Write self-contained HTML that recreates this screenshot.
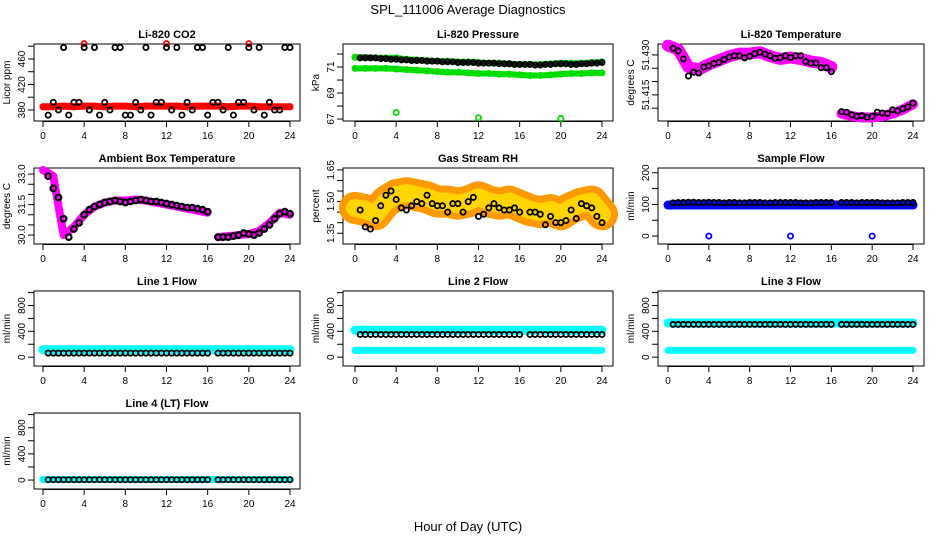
<!DOCTYPE html>
<html><head><meta charset="utf-8"><style>
body{margin:0;background:#fff}
svg{display:block;font-family:"Liberation Sans",sans-serif}
</style></head><body>
<svg id="c" width="936" height="540" xmlns="http://www.w3.org/2000/svg">
<rect width="936" height="540" fill="#fff"/>
<text x="468" y="14" text-anchor="middle" font-size="13">SPL_111006  Average Diagnostics</text>
<text x="468" y="531" text-anchor="middle" font-size="13">Hour of Day (UTC)</text>
</svg>
<script>
// ---- data ----
const hours = [0,1,2,3,4,5,6,7,8,9,10,11,12,13,14,15,16,17,18,19,20,21,22,23,24];
const halfHours = [0.5,1,1.5,2,2.5,3,3.5,4,4.5,5,5.5,6,6.5,7,7.5,8,8.5,9,9.5,10,10.5,11,11.5,12,12.5,13,13.5,14,14.5,15,15.5,16,16.5,17,17.5,18,18.5,19,19.5,20,20.5,21,21.5,22,22.5,23,23.5,24];
const xTicks = [0,4,8,12,16,20,24];
const outlierHours = [4,12,20];

const co2Red = [385,385,386,385,386,386,385,386,386,385,386,386,386,386,385,386,386,386,385,386,386,385,385,385,385];
const co2RedOut = [484,484,484];
const co2Black = [372,392,380,478,372,392,392,478,380,478,372,392,380,478,478,372,372,392,380,478,372,392,392,478,380,478,372,392,380,478,478,372,392,392,380,478,372,392,392,478,380,478,372,392,380,380,478,478];

const presGreenHi = [71.75,71.75,71.7,71.7,71.7,71.6,71.55,71.5,71.45,71.45,71.4,71.4,71.35,71.3,71.3,71.25,71.2,71.2,71.2,71.25,71.3,71.3,71.3,71.35,71.4];
const presGreenLo = [70.9,70.9,70.9,70.9,70.85,70.8,70.75,70.7,70.65,70.6,70.6,70.55,70.5,70.5,70.45,70.45,70.4,70.35,70.35,70.4,70.45,70.5,70.5,70.55,70.55];
const presGreenOut = [67.5,67.1,67.05];
const presBlack = [71.7,71.7,71.7,71.7,71.65,71.65,71.6,71.6,71.55,71.55,71.5,71.5,71.5,71.45,71.45,71.45,71.4,71.4,71.4,71.35,71.35,71.35,71.35,71.3,71.3,71.3,71.3,71.25,71.25,71.25,71.2,71.2,71.2,71.2,71.15,71.15,71.2,71.2,71.25,71.25,71.25,71.2,71.2,71.25,71.25,71.3,71.3,71.35];

const tempMag = [51.4335,51.432,51.4255,51.4245,51.4265,51.428,51.4295,51.4305,51.4305,51.431,51.4295,51.4285,51.429,51.4285,51.4275,51.427,51.4255,51.408,51.407,51.4065,51.4065,51.407,51.408,51.4095,51.4115];
const tempBlack = [51.4325,51.4315,51.4285,51.4221,51.4235,51.4232,51.4255,51.4259,51.4268,51.4272,51.4283,51.4292,51.4297,51.4297,51.4289,51.4295,51.4305,51.431,51.4303,51.4297,51.4287,51.429,51.4297,51.429,51.4297,51.4297,51.4275,51.4269,51.427,51.4252,51.4252,51.4237,null,51.4087,51.4085,51.4075,51.407,51.4072,51.4066,51.407,51.4085,51.4082,51.408,51.4094,51.409,51.4098,51.4105,51.4119];

const ambMag = [33.2,32.9,30.0,30.4,31.0,31.4,31.6,31.7,31.7,31.75,31.7,31.6,31.5,31.4,31.3,31.2,31.1,29.9,29.95,30.0,30.05,30.2,30.6,31.1,31.0];
const ambBlack = [32.9,32.3,31.85,30.8,29.9,30.3,30.6,31.0,31.25,31.4,31.5,31.6,31.65,31.7,31.65,31.6,31.65,31.7,31.75,31.7,31.65,31.65,31.6,31.55,31.5,31.45,31.4,31.35,31.35,31.3,31.25,31.15,null,29.9,29.9,29.9,29.95,30.0,30.1,30.05,30.0,30.1,30.3,30.5,30.8,31.05,31.15,31.05];

const rhOrange = [1.47,1.46,1.44,1.5,1.53,1.54,1.53,1.52,1.5,1.5,1.49,1.5,1.52,1.5,1.49,1.5,1.48,1.46,1.45,1.46,1.44,1.47,1.49,1.5,1.44];
const rhBlack = [1.46,1.38,1.37,1.41,1.48,1.53,1.55,1.51,1.47,1.46,1.48,1.5,1.49,1.53,1.49,1.48,1.48,1.45,1.49,1.49,1.45,1.5,1.52,1.43,1.44,1.47,1.49,1.47,1.46,1.46,1.47,1.45,null,1.45,1.45,1.44,1.39,1.43,1.4,1.4,1.41,1.46,1.42,1.49,1.48,1.47,1.43,1.4];

const sfBlue = [98,98,98,98,98,98,98,98,98,98,98,98,98,98,98,98,98,98,98,98,98,98,98,98,98];
const sfBlueOut = [0,0,0];
const sfBlack = [105,106,106,107,107,106,106,107,106,106,105,106,106,105,105,106,106,106,105,105,106,106,106,106,106,105,105,105,106,106,106,106,null,106,106,106,105,106,106,106,106,105,105,105,105,106,106,106];

const l1Cyan = [115,115,115,115,115,115,115,115,115,115,115,115,115,115,115,115,115,115,115,115,115,115,115,115,115];
const l1Black = [63,63,63,63,63,63,63,63,63,63,63,63,63,63,63,63,63,63,63,63,63,63,63,63,63,63,63,63,63,63,63,63,null,63,63,63,63,63,63,63,63,63,63,63,63,63,63,63];
const l2CyanHi = [417,417,417,417,417,417,417,417,417,417,417,417,417,417,417,417,417,417,417,417,417,417,417,417,417];
const l2CyanLo = [105,105,105,105,105,105,105,105,105,105,105,105,105,105,105,105,105,105,105,105,105,105,105,105,105];
const l2Black = [352,352,352,352,352,352,352,352,352,352,352,352,352,352,352,352,352,352,352,352,352,352,352,352,352,352,352,352,352,352,352,352,null,352,352,352,352,352,352,352,352,352,352,352,352,352,352,352];
const l3CyanHi = [530,530,530,530,530,530,530,530,530,530,530,530,530,530,530,530,530,530,530,530,530,530,530,530,530];
const l3CyanLo = [105,105,105,105,105,105,105,105,105,105,105,105,105,105,105,105,105,105,105,105,105,105,105,105,105];
const l3Black = [507,507,507,507,507,507,507,507,507,507,507,507,507,507,507,507,507,507,507,507,507,507,507,507,507,507,507,507,507,507,507,507,null,507,507,507,507,507,507,507,507,507,507,507,507,507,507,507];
const l4Cyan = [8,8,8,8,8,8,8,8,8,8,8,8,8,8,8,8,8,8,8,8,8,8,8,8,8];
const l4Black = [5,5,5,5,5,5,5,5,5,5,5,5,5,5,5,5,5,5,5,5,5,5,5,5,5,5,5,5,5,5,5,5,null,5,5,5,5,5,5,5,5,5,5,5,5,5,5,5];

// ---- drawing ----
const svg = document.getElementById('c');
const NS = 'http://www.w3.org/2000/svg';
function mk(tag, attrs, parent){
  const e = document.createElementNS(NS, tag);
  for (const k in attrs) e.setAttribute(k, attrs[k]);
  (parent||svg).appendChild(e);
  return e;
}
const cols = [{l:34,r:300,x0:43,x24:290},{l:343,r:613,x0:355,x24:602},{l:658,r:924,x0:668,x24:913}];
const rows = [{t:44,b:121},{t:168,b:244},{t:291,b:366},{t:413,b:489}];

function panel(name, title, ylab, ci, ri, ymin, ymax, ticks, labels){
  const c = cols[ci], r = rows[ri];
  const g = mk('g', {});
  
  
  const sx = h => c.x0 + (c.x24 - c.x0) * h / 24;
  const sy = v => r.b - (v - ymin) / (ymax - ymin) * (r.b - r.t);
  const box = mk('rect', {x:c.l, y:r.t, width:c.r-c.l, height:r.b-r.t, fill:'none', stroke:'#000', 'stroke-width':1}, g);
  
  
  const tt = mk('text', {x:(c.l+c.r)/2, y:r.t-6, 'text-anchor':'middle', 'font-size':11, 'font-weight':'bold'}, g);
  tt.textContent = title;
  
  
  const yl = mk('text', {transform:`translate(${c.l-24},${(r.t+r.b)/2}) rotate(-90)`, 'text-anchor':'middle', 'font-size':10}, g);
  yl.textContent = ylab;
  
  
  xTicks.forEach(h => {
    mk('line', {x1:sx(h), x2:sx(h), y1:r.b, y2:r.b+6, stroke:'#000'}, g);
    const t = mk('text', {x:sx(h), y:r.b+18, 'text-anchor':'middle', 'font-size':10}, g);
    t.textContent = h;
    
    
  });
  mk('line', {x1:sx(0), x2:sx(24), y1:r.b+0.5, y2:r.b+0.5, stroke:'#000'}, g);
  ticks.forEach(v => {
    mk('line', {x1:c.l-6, x2:c.l, y1:sy(v), y2:sy(v), stroke:'#000'}, g);
  });
  labels.forEach(v => {
    const t = mk('text', {transform:`translate(${c.l-9},${sy(+v)}) rotate(-90)`, 'text-anchor':'middle', 'font-size':10}, g);
    t.textContent = v;
    
    
  });
  return {g, sx, sy};
}
function band(p, xs, vals, color, width){
  let d = '';
  xs.forEach((h,i) => { if (vals[i]==null) return; d += (d?'L':'M') + p.sx(h) + ' ' + p.sy(vals[i]); });
  const e = mk('path', {d, fill:'none', stroke:color, 'stroke-width':width, 'stroke-linejoin':'round', 'stroke-linecap':'round'}, p.g);
  
  
}
function pts(p, xs, vals, color, r, sw){
  xs.forEach((h,i) => {
    if (vals[i]==null) return;
    const e = mk('circle', {cx:p.sx(h), cy:p.sy(vals[i]), r:r||2.6, fill:'none', stroke:color, 'stroke-width':sw||1.8}, p.g);
    
    
  });
}

let p = panel('co2-panel','Li-820 CO2','Licor ppm',0,0,362.7,483.5,[380,400,420,440,460,480],['380','420','460']);
band(p, hours, co2Red, '#f00', 7);
pts(p, hours, co2Red, '#f00');
pts(p, outlierHours, co2RedOut, '#f00');
pts(p, halfHours, co2Black, '#000');

p = panel('pressure-panel','Li-820 Pressure','kPa',1,0,66.85,72.77,[67,68,69,70,71,72],['67','69','71']);
band(p, hours, presGreenHi, '#0d0', 6);
band(p, hours, presGreenLo, '#0d0', 6);
pts(p, hours, presGreenHi, '#0d0');
pts(p, hours, presGreenLo, '#0d0');
pts(p, outlierHours, presGreenOut, '#0d0');
band(p, halfHours, presBlack, '#111', 3);
pts(p, halfHours, presBlack, '#000');

p = panel('li820-temperature-panel','Li-820 Temperature','degrees C',2,0,51.4052,51.4341,[51.41,51.415,51.42,51.425,51.43],['51.415','51.430']);
band(p, hours.slice(0,17), tempMag.slice(0,17), '#f0f', 12);
band(p, hours.slice(17), tempMag.slice(17), '#f0f', 10);
pts(p, hours, tempMag, '#f0f', 3);
pts(p, halfHours, tempBlack, '#000');

p = panel('ambient-temperature-panel','Ambient Box Temperature','degrees C',0,1,29.56,33.3,[30,30.5,31,31.5,32,32.5,33],['30.0','31.5','33.0']);
band(p, hours.slice(0,17), ambMag.slice(0,17), '#f0f', 8);
band(p, hours.slice(17), ambMag.slice(17), '#f0f', 8);
pts(p, halfHours, ambBlack, '#000', 2.8, 2.2);

p = panel('gas-stream-rh-panel','Gas Stream RH','percent',1,1,1.299,1.659,[1.35,1.4,1.45,1.5,1.55,1.6,1.65],['1.35','1.50','1.65']);
band(p, hours, rhOrange, '#f90', 32);
band(p, hours, rhOrange, '#ffd400', 18);
pts(p, halfHours, rhBlack, '#000');

p = panel('sample-flow-panel','Sample Flow','ml/min',2,1,-25,215,[0,50,100,150,200],['0','100','200']);
band(p, hours, sfBlue, '#00f', 9);
pts(p, outlierHours, sfBlueOut, '#00f');
pts(p, halfHours, sfBlack, '#000');

const lt = [0,200,400,600,800,1000], ll = ['0','400','800'];
p = panel('line1-flow-panel','Line 1 Flow','ml/min',0,2,-137,1025,lt,ll);
band(p, hours, l1Cyan, '#0ff', 9);
pts(p, halfHours, l1Black, '#000');
p = panel('line2-flow-panel','Line 2 Flow','ml/min',1,2,-137,1025,lt,ll);
band(p, hours, l2CyanHi, '#0ff', 9);
band(p, hours, l2CyanLo, '#0ff', 7);
pts(p, halfHours, l2Black, '#000');
p = panel('line3-flow-panel','Line 3 Flow','ml/min',2,2,-137,1025,lt,ll);
band(p, hours, l3CyanHi, '#0ff', 9);
band(p, hours, l3CyanLo, '#0ff', 7);
pts(p, halfHours, l3Black, '#000');
p = panel('line4-flow-panel','Line 4 (LT) Flow','ml/min',0,3,-137,1025,lt,ll);
band(p, hours, l4Cyan, '#0ff', 7);
pts(p, halfHours, l4Black, '#000');
</script>
</body></html>
